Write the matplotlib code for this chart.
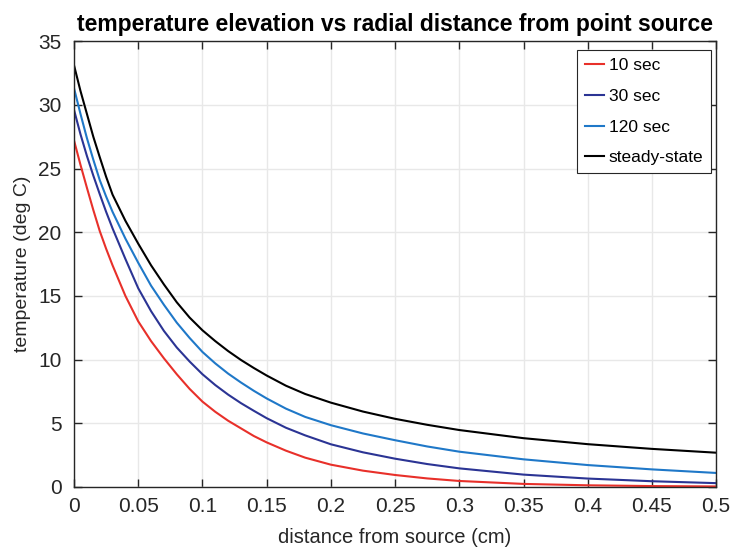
import numpy as np
import matplotlib
matplotlib.use("Agg")
import matplotlib.pyplot as plt

plt.rcParams['font.family'] = ['Liberation Sans', 'DejaVu Sans']

# distance from source (cm)
r = [0, 0.005, 0.01, 0.015, 0.02, 0.025, 0.03, 0.04, 0.05, 0.06, 0.07, 0.08,
     0.09, 0.1, 0.11, 0.12, 0.13, 0.14, 0.15, 0.165, 0.18, 0.2, 0.225, 0.25,
     0.275, 0.3, 0.35, 0.4, 0.45, 0.5]

# temperature elevation (deg C)
t_10 = [27.2, 25.3, 23.5, 21.75, 20.1, 18.7, 17.4, 15.0, 13.0, 11.45, 10.1, 8.85,
        7.7, 6.7, 5.9, 5.2, 4.6, 4.0, 3.5, 2.85, 2.3, 1.75, 1.28, 0.94,
        0.67, 0.47, 0.24, 0.13, 0.07, 0.04]
t_30 = [29.6, 27.7, 26.0, 24.45, 23.0, 21.6, 20.3, 17.9, 15.6, 13.8, 12.25, 10.95,
        9.85, 8.85, 8.0, 7.25, 6.58, 5.98, 5.4, 4.65, 4.05, 3.35, 2.72, 2.22,
        1.8, 1.46, 0.97, 0.66, 0.45, 0.3]
t_120 = [31.3, 29.3, 27.4, 25.7, 24.1, 22.8, 21.6, 19.5, 17.6, 15.8, 14.3, 12.9,
         11.7, 10.6, 9.7, 8.9, 8.2, 7.55, 6.95, 6.15, 5.5, 4.85, 4.2, 3.67,
         3.18, 2.77, 2.17, 1.72, 1.38, 1.1]
t_ss = [33.1, 31.1, 29.3, 27.5, 25.9, 24.35, 22.95, 20.9, 19.1, 17.4, 15.9, 14.5,
        13.3, 12.3, 11.45, 10.67, 9.97, 9.34, 8.75, 7.95, 7.3, 6.62, 5.92, 5.35,
        4.88, 4.47, 3.83, 3.36, 2.99, 2.69]

labels = ["10 sec", "30 sec", "120 sec", "steady-state"]
colors = ["#e8302a", "#2b3494", "#1f78c8", "#000000"]

fig = plt.figure(figsize=(7.33, 5.49), dpi=100)
ax = fig.add_axes([0.101, 0.113, 0.876, 0.812])

for y, lab, c in zip([t_10, t_30, t_120, t_ss], labels, colors):
    ax.plot(r, y, color=c, lw=1.5, label=lab)

ax.set_xlim(0, 0.5)
ax.set_ylim(0, 35)
ax.set_xticks(np.arange(0, 0.51, 0.05))
ax.set_xticklabels(["0", "0.05", "0.1", "0.15", "0.2", "0.25", "0.3",
                    "0.35", "0.4", "0.45", "0.5"])
ax.set_yticks(range(0, 36, 5))
ax.grid(True, color="#e8e8e8", lw=1)
ax.set_axisbelow(True)
for s in ax.spines.values():
    s.set_color("#262626")
    s.set_linewidth(1)
ax.tick_params(direction="in", top=True, right=True, length=6, width=1,
               color="#262626", labelsize=15, labelcolor="#262626")
ax.tick_params(axis="x", pad=7)
ax.tick_params(axis="y", pad=9)

ax.set_xlabel("distance from source (cm)", fontsize=14.5, color="#262626",
              labelpad=9)
ax.set_ylabel("temperature (deg C)", fontsize=14, color="#262626",
              labelpad=5)
ax.set_title("temperature elevation vs radial distance from point source",
             fontsize=16.5, fontweight="bold", pad=7)

leg = ax.legend(loc="upper right", bbox_to_anchor=(0.992, 0.98), fontsize=12.5,
                fancybox=False, framealpha=1, edgecolor="#262626",
                handlelength=1.1, handletextpad=0.25, labelspacing=0.9,
                borderpad=0.45, borderaxespad=0)
leg.get_frame().set_linewidth(0.8)

fig.savefig("out.png", dpi=100)
